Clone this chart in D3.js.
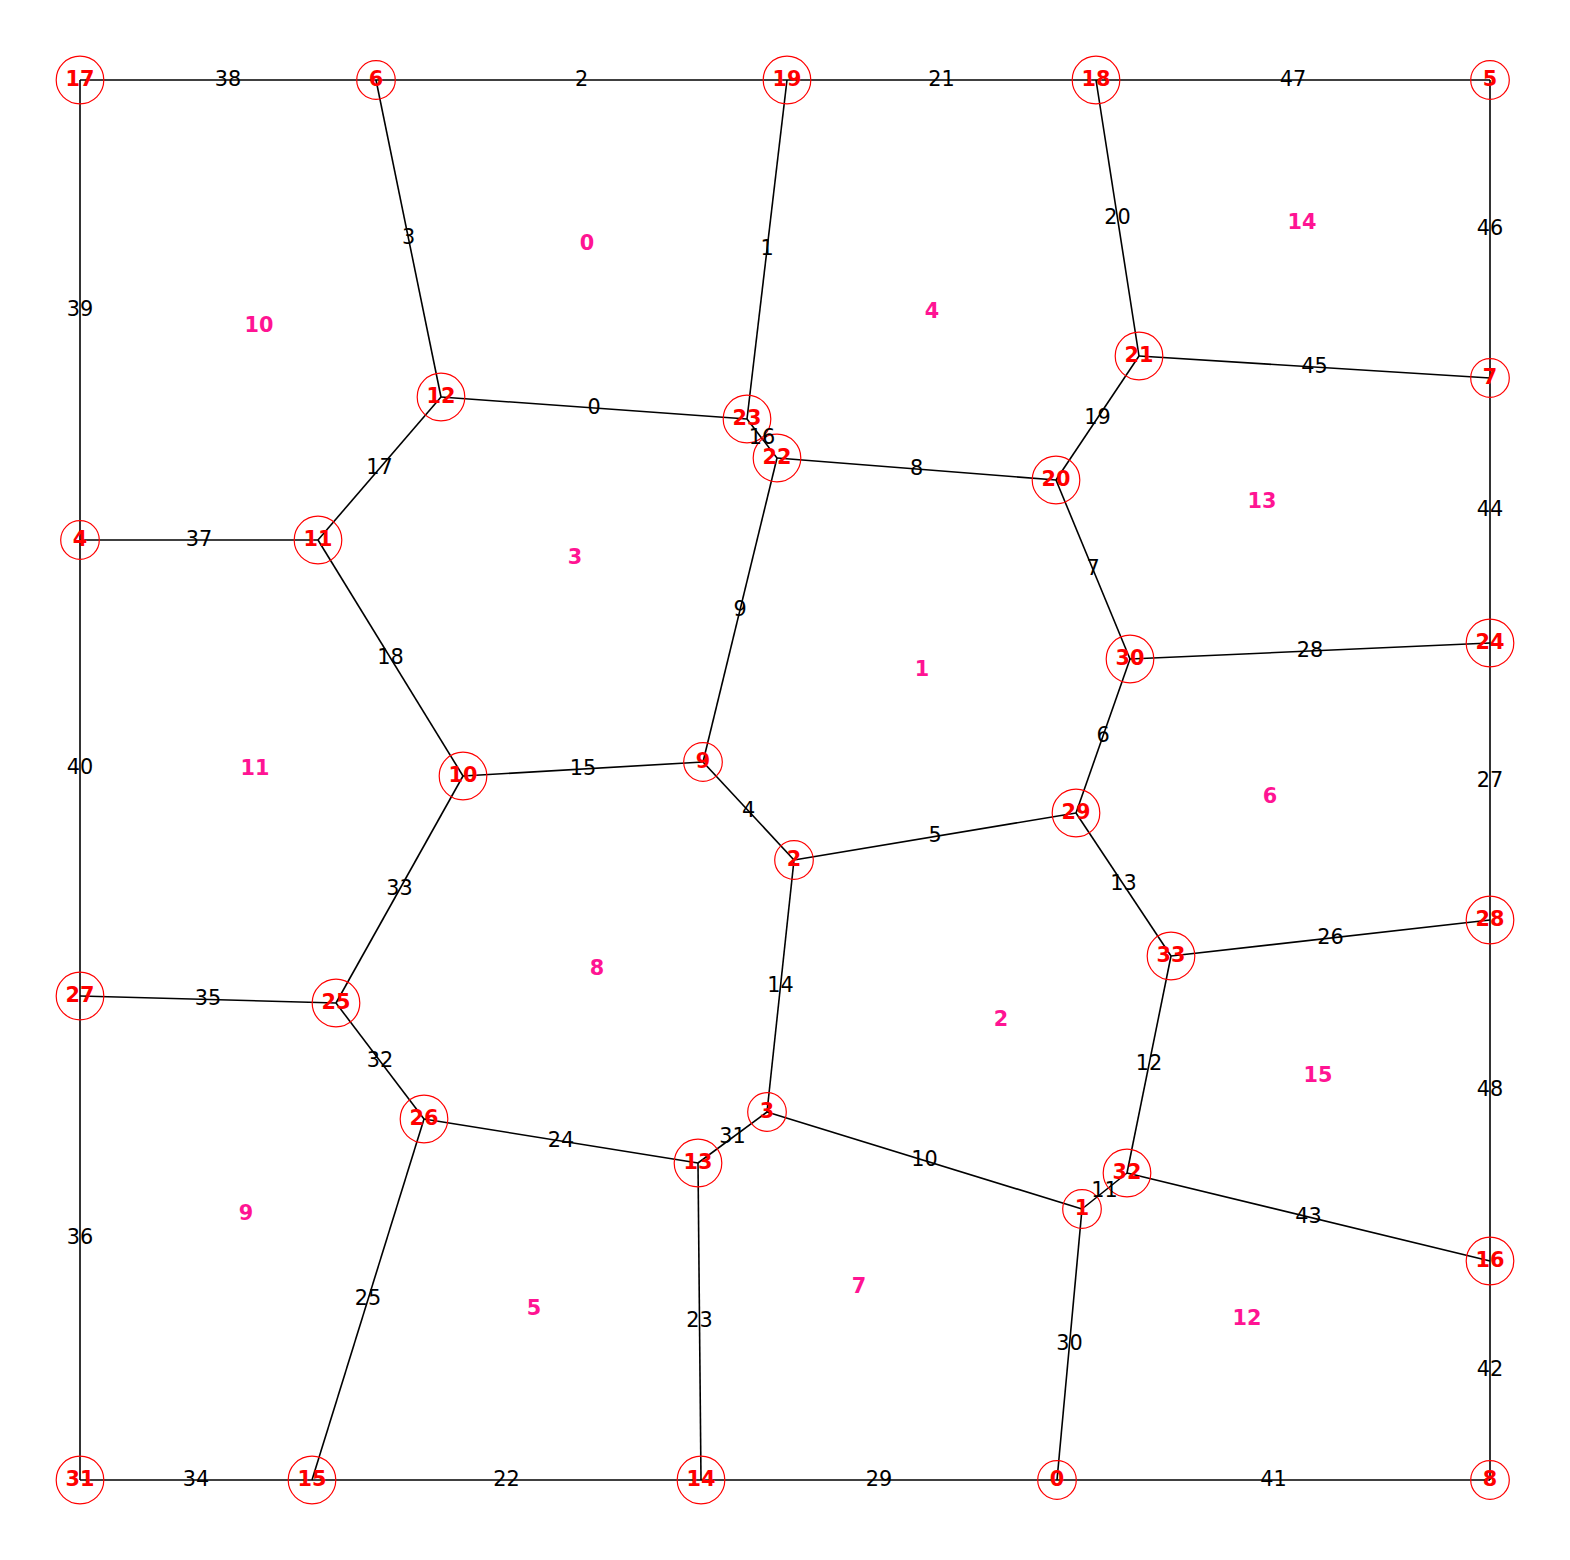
<!DOCTYPE html>
<html>
<head>
<meta charset="utf-8">
<script src="https://cdn.jsdelivr.net/npm/d3@7"></script>
<style>
  html, body { margin: 0; padding: 0; background: #fff; }
  svg { display: block; }
  text { font-family: "DejaVu Sans", sans-serif; }
</style>
</head>
<body>
<svg id="chart" width="1570" height="1560"></svg>
<script>
// Node coordinates (data units, y up), index = node id
const nodeX = [977,1002,714,687,0,1410,296,1410,1410,623,383,238,361,618,621,232,1410,0,1016,707,976,1059,697,667,1410,256,344,0,1410,996,1050,0,1047,1091];
const nodeY = [0,271,620,368,940,1400,1400,1102,0,718,704,940,1083,317,0,0,219,1400,1400,1400,1000,1124,1022,1061,837,477,361,484,560,667,821,0,307,524];

// Edges, index = edge label
const edgeSource = [12,19,6,6,9,2,29,20,22,22,3,1,32,29,2,10,23,11,11,20,18,19,15,13,26,15,33,24,30,14,1,3,25,10,31,27,31,4,17,17,4,0,8,32,7,21,5,18,16];
const edgeTarget = [23,23,19,12,2,29,30,30,20,9,1,32,33,33,3,9,22,12,10,21,21,18,14,14,13,26,28,28,24,0,0,13,26,25,15,25,27,11,6,4,27,8,16,16,24,7,7,5,28];

// Face labels
const faceIds = [0,1,2,3,4,5,6,7,8,9,10,11,12,13,14,15];
const faceX = [507,842,921,495,852,454,1190,779,517,166,179,175,1167,1182,1222,1238];
const faceY = [1236,810,460,922,1168,171,683,193,511,266,1154,711,161,978,1257,404];

const svg = d3.select("#chart");
const x = d3.scaleLinear().domain([0, 1410]).range([80, 1490]);
const y = d3.scaleLinear().domain([0, 1400]).range([1480, 80]);

const nodes = nodeX.map((v, i) => ({ id: i, x: v, y: nodeY[i] }));
const edges = edgeSource.map((s, i) => ({ id: i, s: nodes[s], t: nodes[edgeTarget[i]] }));
const faces = faceIds.map((f, i) => ({ id: f, x: faceX[i], y: faceY[i] }));

const FS = 20.8;

svg.append("g").selectAll("line").data(edges).join("line")
  .attr("x1", d => x(d.s.x)).attr("y1", d => y(d.s.y))
  .attr("x2", d => x(d.t.x)).attr("y2", d => y(d.t.y))
  .attr("stroke", "#000").attr("stroke-width", 1.6);

svg.append("g").selectAll("circle").data(nodes).join("circle")
  .attr("cx", d => x(d.x)).attr("cy", d => y(d.y))
  .attr("r", d => String(d.id).length === 1 ? 19.3 : 23.8)
  .attr("fill", "none").attr("stroke", "#ff0000").attr("stroke-width", 1.2);

svg.append("g").selectAll("text").data(nodes).join("text")
  .attr("x", d => x(d.x)).attr("y", d => y(d.y))
  .attr("dy", "0.29em")
  .attr("text-anchor", "middle")
  .attr("font-size", FS).attr("font-weight", "bold")
  .attr("fill", "#ff0000")
  .text(d => d.id);

svg.append("g").selectAll("text").data(edges).join("text")
  .attr("x", d => x((d.s.x + d.t.x) / 2)).attr("y", d => y((d.s.y + d.t.y) / 2))
  .attr("dy", "0.27em")
  .attr("text-anchor", "middle")
  .attr("font-size", FS)
  .attr("fill", "#000")
  .text(d => d.id);

svg.append("g").selectAll("text").data(faces).join("text")
  .attr("x", d => x(d.x)).attr("y", d => y(d.y))
  .attr("dy", "0.27em")
  .attr("text-anchor", "middle")
  .attr("font-size", FS).attr("font-weight", "bold")
  .attr("fill", "#ff1493")
  .text(d => d.id);
</script>
</body>
</html>
